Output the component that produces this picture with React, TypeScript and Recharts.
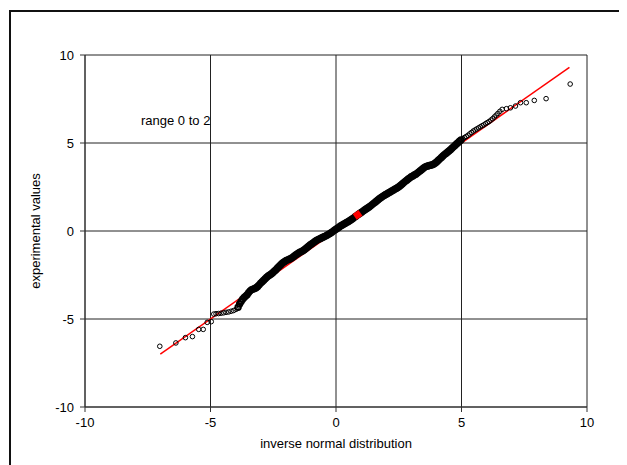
import {
  ScatterChart, Scatter, XAxis, YAxis, CartesianGrid, Label
} from 'recharts';

// ticks shared by both axes
const axisTicks = [-10, -5, 0, 5, 10];

// sparse points below the bulk of the data
const lowerTail = [
  [-7.02, -6.55], [-6.38, -6.36], [-6.0, -6.06], [-5.72, -6.0], [-5.47, -5.59],
  [-5.29, -5.59], [-5.13, -5.19], [-4.97, -5.15], [-4.87, -4.72], [-4.78, -4.7],
  [-4.68, -4.69], [-4.58, -4.67], [-4.48, -4.65], [-4.38, -4.62], [-4.28, -4.6],
  [-4.18, -4.56], [-4.08, -4.52], [-3.98, -4.45],
];

// the dense band of points
const body = [
  [-3.9, -4.33], [-3.84, -4.15], [-3.78, -4.0], [-3.72, -3.88], [-3.66, -3.78],
  [-3.6, -3.7], [-3.54, -3.62], [-3.48, -3.5], [-3.42, -3.4], [-3.36, -3.33],
  [-3.3, -3.3], [-3.24, -3.27], [-3.18, -3.22], [-3.12, -3.15], [-3.06, -3.06],
  [-3.0, -2.96], [-2.94, -2.88], [-2.88, -2.8], [-2.82, -2.71], [-2.76, -2.63],
  [-2.7, -2.56], [-2.64, -2.5], [-2.58, -2.44], [-2.52, -2.37], [-2.46, -2.29],
  [-2.4, -2.21], [-2.34, -2.12], [-2.28, -2.03], [-2.22, -1.94], [-2.16, -1.86],
  [-2.1, -1.79], [-2.04, -1.73], [-1.98, -1.68], [-1.92, -1.64], [-1.86, -1.6],
  [-1.8, -1.56], [-1.74, -1.51], [-1.68, -1.45], [-1.62, -1.38], [-1.56, -1.32],
  [-1.5, -1.26], [-1.44, -1.21], [-1.38, -1.17], [-1.32, -1.12], [-1.26, -1.06],
  [-1.2, -0.99], [-1.14, -0.92], [-1.08, -0.85], [-1.02, -0.78], [-0.96, -0.72],
  [-0.9, -0.66], [-0.84, -0.6], [-0.78, -0.54], [-0.72, -0.49], [-0.66, -0.45],
  [-0.6, -0.41], [-0.54, -0.37], [-0.48, -0.33], [-0.42, -0.29], [-0.36, -0.24],
  [-0.3, -0.19], [-0.24, -0.14], [-0.18, -0.08], [-0.12, -0.02], [-0.06, 0.04],
  [0.0, 0.1], [0.06, 0.16], [0.12, 0.22], [0.18, 0.28], [0.24, 0.33],
  [0.3, 0.38], [0.36, 0.43], [0.42, 0.48], [0.48, 0.53], [0.54, 0.58],
  [0.6, 0.64], [0.66, 0.7], [0.72, 0.76], [0.78, 0.83], [0.84, 0.89],
  [0.9, 0.95], [0.96, 1.01], [1.02, 1.07], [1.08, 1.13], [1.14, 1.19],
  [1.2, 1.25], [1.26, 1.31], [1.32, 1.37], [1.38, 1.43], [1.44, 1.5],
  [1.5, 1.57], [1.56, 1.64], [1.62, 1.71], [1.68, 1.78], [1.74, 1.85],
  [1.8, 1.91], [1.86, 1.97], [1.92, 2.02], [1.98, 2.07], [2.04, 2.12],
  [2.1, 2.17], [2.16, 2.22], [2.22, 2.27], [2.28, 2.32], [2.34, 2.37],
  [2.4, 2.42], [2.46, 2.47], [2.52, 2.53], [2.58, 2.6], [2.64, 2.67],
  [2.7, 2.75], [2.76, 2.82], [2.82, 2.89], [2.88, 2.96], [2.94, 3.02],
  [3.0, 3.08], [3.06, 3.13], [3.12, 3.18], [3.18, 3.23], [3.24, 3.29],
  [3.3, 3.36], [3.36, 3.43], [3.42, 3.5], [3.48, 3.57], [3.54, 3.63],
  [3.6, 3.67], [3.66, 3.7], [3.72, 3.72], [3.78, 3.74], [3.84, 3.77],
  [3.9, 3.81], [3.96, 3.87], [4.02, 3.94], [4.08, 4.02], [4.14, 4.1],
  [4.2, 4.18], [4.26, 4.26], [4.32, 4.34], [4.38, 4.41], [4.44, 4.48],
  [4.5, 4.55], [4.56, 4.62], [4.62, 4.7], [4.68, 4.78], [4.74, 4.86],
  [4.8, 4.94], [4.86, 5.02], [4.92, 5.1], [4.98, 5.17],
];

// sparse points above the bulk
const upperTail = [
  [5.05, 5.25], [5.12, 5.31], [5.19, 5.37], [5.26, 5.44], [5.33, 5.52],
  [5.4, 5.6], [5.47, 5.68], [5.54, 5.74], [5.61, 5.8], [5.68, 5.86],
  [5.75, 5.92], [5.82, 5.98], [5.89, 6.03], [5.96, 6.1], [6.03, 6.16],
  [6.1, 6.22], [6.17, 6.3], [6.24, 6.38], [6.31, 6.48], [6.38, 6.58],
  [6.45, 6.68], [6.53, 6.8], [6.62, 6.91], [6.79, 6.95], [6.95, 7.0],
  [7.15, 7.1], [7.35, 7.29], [7.58, 7.29], [7.9, 7.42], [8.37, 7.52],
  [9.33, 8.35],
];

// fitted straight line and the highlighted point
const fitLine = [[-7, -7], [9.3, 9.3]];
const highlight = [[0.86, 0.91]];

const toXY = (arr: number[][]) => arr.map(([x, y]) => ({ x, y }));

const font = '"Liberation Sans", Arial, sans-serif';

const OpenCircle = (props: any) => (
  <circle cx={props.cx} cy={props.cy} r={2.3} fill="none" stroke="#000" strokeWidth={1} />
);

// the bulk overlaps so heavily it reads as a solid band
const DenseCircle = (props: any) => (
  <circle cx={props.cx} cy={props.cy} r={2.7} fill="none" stroke="#000" strokeWidth={2} />
);

const RedSquare = (props: any) => (
  <rect
    x={props.cx - 3.5}
    y={props.cy - 3.5}
    width={7}
    height={7}
    fill="#ff0000"
    transform={`rotate(-35 ${props.cx} ${props.cy})`}
  />
);

export default function App() {
  return (
    <div style={{ position: 'relative', width: 619, height: 457, overflow: 'hidden', fontFamily: font }}>
      <div
        style={{
          position: 'absolute', left: 1, top: 2, width: 700, height: 600,
          border: '2px solid #111', boxSizing: 'border-box',
        }}
      />
      <ScatterChart width={619} height={457} margin={{ top: 47, right: 40, left: 0, bottom: 28 }}>
        <CartesianGrid stroke="#222" strokeWidth={1} />
        <XAxis
          type="number"
          dataKey="x"
          domain={[-10, 10]}
          ticks={axisTicks}
          allowDataOverflow
          height={30}
          tickSize={5}
          tickMargin={6}
          stroke="#333"
          tick={{ fontSize: 13, fill: '#000', fontFamily: font }}
        >
          <Label
            value="inverse normal distribution"
            position="bottom"
            offset={2}
            style={{ fontSize: 13, fill: '#000', fontFamily: font }}
          />
        </XAxis>
        <YAxis
          type="number"
          dataKey="y"
          domain={[-10, 10]}
          ticks={axisTicks}
          allowDataOverflow
          width={77}
          tickSize={5}
          tickMargin={6}
          stroke="#333"
          tick={{ fontSize: 13, fill: '#000', fontFamily: font }}
        >
          <Label
            value="experimental values"
            angle={-90}
            position="insideLeft"
            offset={27}
            style={{ fontSize: 13, fill: '#000', fontFamily: font, textAnchor: 'middle' }}
          />
        </YAxis>
        <Scatter
          data={toXY(fitLine)}
          line={{ stroke: '#ff0000', strokeWidth: 1.5 }}
          shape={() => <g />}
          isAnimationActive={false}
        />
        <Scatter data={toXY(lowerTail)} shape={<OpenCircle />} isAnimationActive={false} />
        <Scatter data={toXY(body)} shape={<DenseCircle />} isAnimationActive={false} />
        <Scatter data={toXY(upperTail)} shape={<OpenCircle />} isAnimationActive={false} />
        <Scatter data={toXY(highlight)} shape={<RedSquare />} isAnimationActive={false} />
      </ScatterChart>
      <div
        style={{
          position: 'absolute', left: 133, top: 105, fontSize: 13, lineHeight: '15px',
          color: '#000', whiteSpace: 'nowrap',
        }}
      >
        range 0 to 2
      </div>
    </div>
  );
}
